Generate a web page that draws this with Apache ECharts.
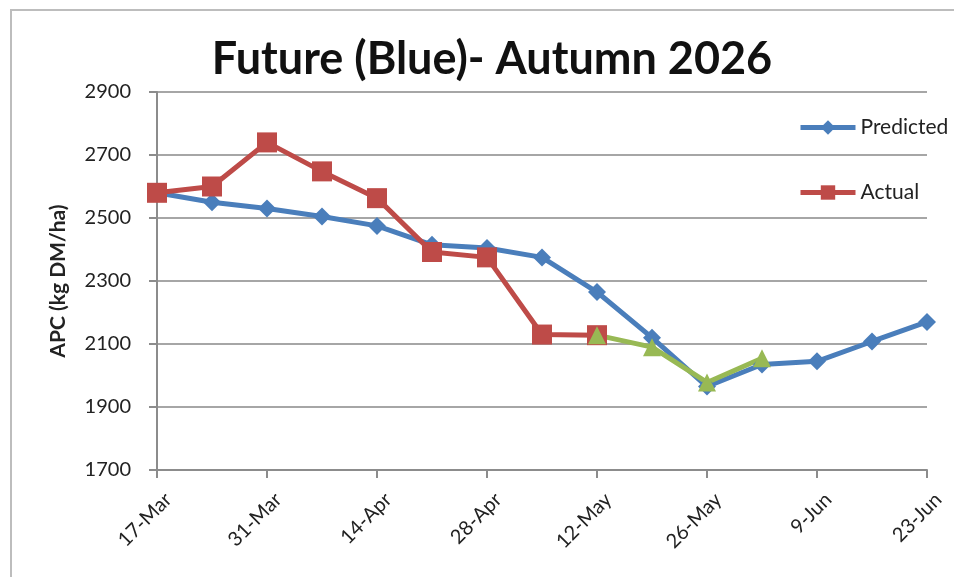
<!DOCTYPE html>
<html>
<head>
<meta charset="utf-8">
<script src="https://cdn.jsdelivr.net/npm/echarts@6/dist/echarts.min.js"></script>
<style>
  html, body { margin: 0; padding: 0; background: #fff; }
  #chart { width: 954px; height: 577px; }
</style>
</head>
<body>
<div id="chart"></div>
<script>
const dates = ['17-Mar', '24-Mar', '31-Mar', '7-Apr', '14-Apr', '21-Apr', '28-Apr', '5-May',
  '12-May', '19-May', '26-May', '2-Jun', '9-Jun', '16-Jun', '23-Jun'];
const predicted = [2580, 2550, 2530, 2505, 2475, 2415, 2405, 2375, 2265, 2120, 1965, 2035, 2045, 2108, 2170];
const actual = [2580, 2600, 2740, 2648, 2563, 2392, 2375, 2130, 2128, null, null, null, null, null, null];
const recent = [null, null, null, null, null, null, null, null, 2128, 2090, 1978, 2055, null, null, null];

const chart = echarts.init(document.getElementById('chart'));
const font = 'Lato, "Liberation Sans", sans-serif';

const option = {
  animation: false,
  textStyle: { fontFamily: font },
  title: {
    text: 'Future (Blue)- Autumn 2026',
    left: 487,
    textAlign: 'center',
    top: 32,
    textStyle: { fontSize: 45, fontWeight: 'bold', color: '#111', fontFamily: font },
  },
  graphic: [
    {
      type: 'rect',
      shape: { x: 11, y: 10, width: 960, height: 600 },
      style: { fill: 'none', stroke: '#bdbdbd', lineWidth: 2 },
      silent: true,
    },
  ],
  legend: {
    data: ['Predicted', 'Actual'],
    orient: 'vertical',
    left: 793,
    top: 112,
    itemWidth: 55,
    itemHeight: 18,
    itemGap: 44,
    lineStyle: { width: 5 },
    textStyle: { fontSize: 21, color: '#222', fontFamily: font },
  },
  grid: { left: 157, right: 27, top: 92, bottom: 107 },
  xAxis: {
    type: 'category',
    data: dates,
    boundaryGap: false,
    axisLine: { lineStyle: { color: '#8c8c8c', width: 2 } },
    axisTick: { interval: 1, length: 8, lineStyle: { color: '#8c8c8c', width: 2 } },
    axisLabel: {
      interval: 1, rotate: 45, fontSize: 20, color: '#222', margin: 15,
      verticalAlign: 'top', padding: [6, 0, 0, 0],
    },
  },
  yAxis: {
    type: 'value',
    min: 1700,
    max: 2900,
    interval: 200,
    name: 'APC (kg DM/ha)',
    nameLocation: 'middle',
    nameGap: 88,
    nameTextStyle: { fontSize: 21, fontWeight: 'bold', color: '#222' },
    axisLine: { show: true, lineStyle: { color: '#8c8c8c', width: 2 } },
    axisTick: { show: true, length: 8, lineStyle: { color: '#8c8c8c', width: 2 } },
    axisLabel: { fontSize: 20, color: '#222', margin: 26, formatter: (v) => String(v) },
    splitLine: { lineStyle: { color: '#a6a6a6', width: 2 } },
  },
  series: [
    {
      name: 'Predicted',
      type: 'line',
      data: predicted,
      symbol: 'diamond',
      symbolSize: 18,
      lineStyle: { color: '#4a7ebb', width: 5 },
      itemStyle: { color: '#4a7ebb' },
    },
    {
      name: 'Actual',
      type: 'line',
      data: actual,
      symbol: 'rect',
      symbolSize: 20,
      lineStyle: { color: '#be4b48', width: 5 },
      itemStyle: { color: '#be4b48' },
    },
    {
      name: 'Recent',
      type: 'line',
      data: recent,
      symbol: 'triangle',
      symbolSize: 18,
      lineStyle: { color: '#98b954', width: 5 },
      itemStyle: { color: '#98b954' },
    },
  ],
};

chart.setOption(option);
</script>
</body>
</html>
